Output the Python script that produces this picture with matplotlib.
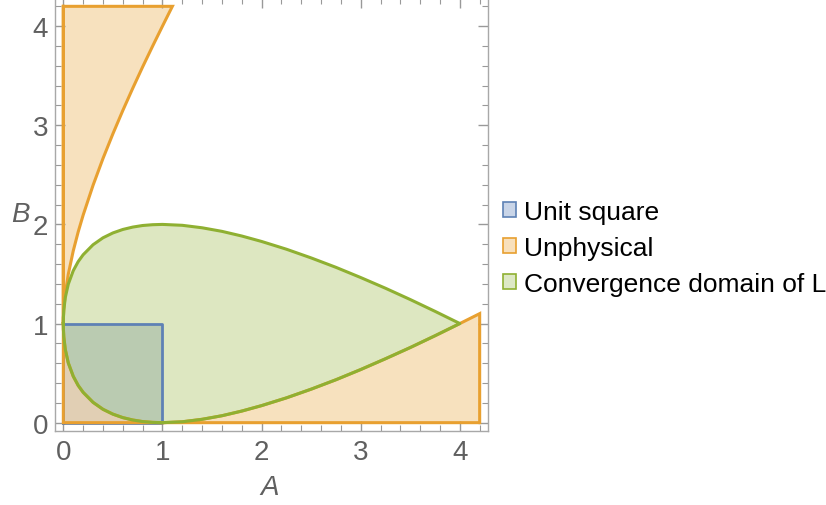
import matplotlib
matplotlib.use("Agg")
import matplotlib.pyplot as plt
from matplotlib.patches import Patch
import numpy as np

plt.rcParams['font.family'] = ['Liberation Sans', 'DejaVu Sans']

# Boundary of the convergence domain
A_grid = [0, 0.001, 0.005, 0.02, 0.05, 0.1, 0.15, 0.2, 0.3, 0.4, 0.5, 0.6, 0.7, 0.8, 0.9,
          1.0, 1.2, 1.4, 1.6, 1.8, 2.0, 2.25, 2.5, 2.75, 3.0, 3.25, 3.5, 3.75, 4.0]
B_lower = [1, 0.938, 0.864, 0.737, 0.603, 0.468, 0.375, 0.306, 0.205, 0.135, 0.086, 0.051,
           0.027, 0.011, 0.003, 0, 0.009, 0.034, 0.070, 0.117, 0.172, 0.25, 0.338, 0.433,
           0.536, 0.645, 0.758, 0.877, 1.0]
B_upper = [1, 1.062, 1.136, 1.263, 1.397, 1.533, 1.625, 1.694, 1.795, 1.865, 1.914, 1.949,
           1.973, 1.989, 1.997, 2.0, 1.991, 1.966, 1.930, 1.883, 1.828, 1.75, 1.662, 1.567,
           1.464, 1.356, 1.242, 1.123, 1.0]

# Unphysical region, upper-left boundary
A_left = [0, 0.001, 0.005, 0.02, 0.05, 0.1, 0.15, 0.2, 0.3, 0.4, 0.5, 0.6, 0.7, 0.8, 0.9, 1.0, 1.1]
B_left = [1, 1.064, 1.146, 1.303, 1.497, 1.733, 1.925, 2.094, 2.395, 2.665, 2.914, 3.149,
          3.373, 3.589, 3.797, 4.0, 4.2]
# Unphysical region, lower-right boundary continues past A=4
A_right_ext = [4.0, 4.1, 4.2]
B_right_ext = [1.0, 1.05, 1.10]
plot_max = 4.2

tick_labels = ['0', '1', '2', '3', '4']
legend_labels = ['Unit square', 'Unphysical', 'Convergence domain of L']

blue = '#5E81B5'
orange = '#E8A030'
green = '#8FB032'

fig = plt.figure(figsize=(8.26, 5.06), dpi=100)
ax = fig.add_axes([55/826, 74/506, 433/826, 433/506])

# Unit square
ax.fill([0, 1, 1, 0], [0, 0, 1, 1], color=blue, alpha=0.3, lw=0, zorder=1)

# Unphysical: upper-left
ax.fill(A_left + [0], B_left + [plot_max], color='#F2C98A', alpha=0.55, lw=0, zorder=1)
# Unphysical: lower-right
lr_x = A_grid + A_right_ext[1:] + [plot_max, 0]
lr_y = B_lower + B_right_ext[1:] + [0, 0]
ax.fill(lr_x, lr_y, color='#F2C98A', alpha=0.55, lw=0, zorder=1)

# Convergence domain
cx = A_grid + A_grid[::-1]
cy = B_lower + B_upper[::-1]
ax.fill(cx, cy, color=green, alpha=0.3, lw=0, zorder=2)

# Outlines
ax.plot([0, 1, 1, 0, 0], [0, 0, 1, 1, 0], color=blue, lw=2, zorder=3)
ax.plot([0] + A_left + [0, 0], [plot_max] + B_left + [plot_max, B_left[0]], color=orange, lw=2.2,
        zorder=4, solid_joinstyle='miter')
ax.plot(lr_x + [0], lr_y + [B_lower[0]], color=orange, lw=2.2, zorder=4, solid_joinstyle='miter')
ax.plot(cx + [cx[0]], cy + [cy[0]], color=green, lw=2.2, zorder=5)

pad = 0.084
ax.set_xlim(-pad, plot_max + pad)
ax.set_ylim(-pad, plot_max + pad)

ticks = [float(t) for t in tick_labels]
ax.set_xticks(ticks, tick_labels)
ax.set_yticks(ticks, tick_labels)
ax.set_xticks(np.arange(0, 4.21, 0.2), minor=True)
ax.set_yticks(np.arange(0, 4.21, 0.2), minor=True)
tick_gray = '#999999'
ax.tick_params(which='both', direction='in', color=tick_gray, top=True, right=True,
               labelsize=20, labelcolor='#606060')
ax.tick_params(which='major', length=7, width=1)
ax.tick_params(which='minor', length=4, width=0.8)
ax.tick_params(axis='x', pad=6)
ax.tick_params(axis='y', pad=5)
for s in ax.spines.values():
    s.set_color('#A8A8A8')
    s.set_linewidth(1)

fig.text(270/826, 1 - 488/506, 'A', fontsize=20, style='italic', color='#606060',
         ha='center', va='center')
fig.text(20/826, 1 - 215/506, 'B', fontsize=20, style='italic', color='#606060',
         ha='center', va='center')

handles = [Patch(facecolor='#C9D5E8', edgecolor=blue, lw=1.2, label=legend_labels[0]),
           Patch(facecolor='#F8E0BC', edgecolor=orange, lw=1.2, label=legend_labels[1]),
           Patch(facecolor='#DDE8C5', edgecolor=green, lw=1.2, label=legend_labels[2])]
fig.legend(handles=handles, loc='center left', bbox_to_anchor=(479/826, 1 - 249/506),
           frameon=False, fontsize=19, handlelength=0.52, handleheight=0.52,
           handletextpad=0.28, labelspacing=0.45)

fig.savefig('out.png', dpi=100)
